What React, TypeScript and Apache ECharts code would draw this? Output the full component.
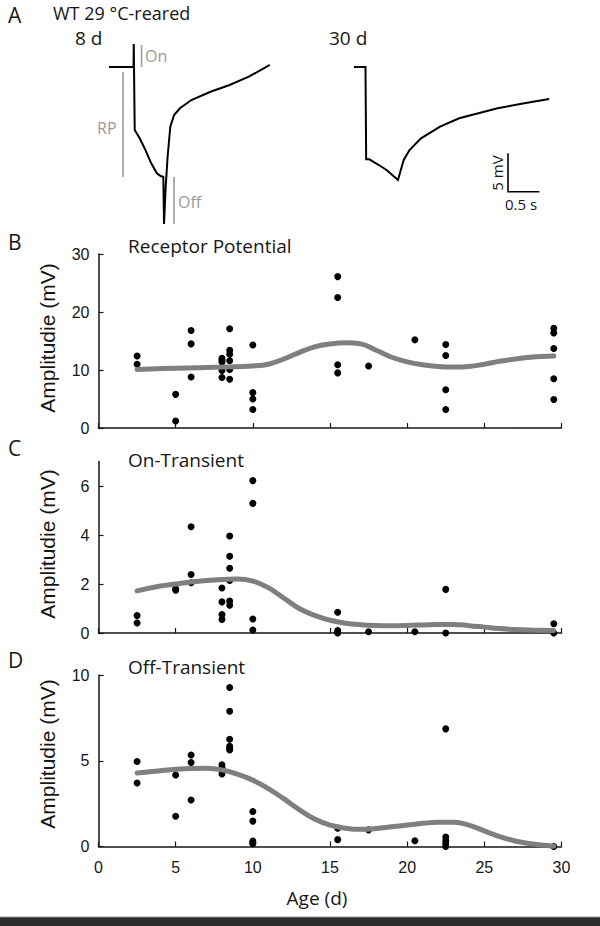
import React, { useEffect, useRef } from "react";
import * as echarts from "echarts";

// ---------- Panel A: example voltage traces (time in s, voltage in mV) ----------
const trace8dTime = [0.143, 0.532, 0.536, 0.540, 0.551, 0.630, 0.721, 0.813, 0.903, 0.963, 1.005, 1.016, 1.043, 1.073, 1.116, 1.176, 1.268, 1.451, 1.754, 2.057, 2.362, 2.695];
const trace8dVolt = [0, 0, 2.99, 2.99, -8.18, -9.26, -10.78, -12.51, -13.81, -14.16, -14.29, -20.39, -15.55, -11.65, -7.75, -6.23, -5.36, -4.29, -3.21, -2.34, -1.26, 0.26];
const trace30dTime = [4.032, 4.214, 4.225, 4.275, 4.335, 4.427, 4.548, 4.730, 4.760, 4.821, 4.913, 5.095, 5.398, 5.701, 6.006, 6.310, 6.735, 7.130];
const trace30dVolt = [0, 0, -11.99, -11.99, -12.30, -12.73, -13.38, -14.68, -13.81, -12.08, -10.78, -9.26, -7.75, -6.66, -6.01, -5.36, -4.71, -4.16];
const onBarTime = [0.66, 0.66];
const onBarVolt = [0, 2.86];
const rpBarTime = [0.365, 0.365];
const rpBarVolt = [-0.65, -14.29];
const offBarTime = [1.175, 1.175];
const offBarVolt = [-14.29, -20.39];
const scaleBarTime = [6.476, 6.476, 6.976];
const scaleBarVolt = [-11.2, -16.2, -16.2];

// ---------- Axes ----------
const ageTicks = [0, 5, 10, 15, 20, 25, 30];
const rpTicks = [0, 10, 20, 30];
const onTicks = [0, 2, 4, 6];
const offTicks = [0, 5, 10];

// ---------- Panel B: Receptor Potential ----------
const rpAges = [2.5, 2.5, 5, 5, 6, 6, 6, 8, 8, 8, 8, 8, 8.5, 8.5, 8.5, 8.5, 8.5, 8.5, 10, 10, 10, 10, 15.5, 15.5, 15.5, 15.5, 17.5, 20.5, 22.5, 22.5, 22.5, 22.5, 29.5, 29.5, 29.5, 29.5, 29.5];
const rpValues = [12.4, 11.0, 5.8, 1.2, 16.8, 14.5, 8.8, 12.0, 11.7, 11.4, 9.9, 8.7, 17.1, 13.4, 12.7, 11.6, 10.1, 8.4, 14.3, 6.1, 5.0, 3.2, 26.1, 22.5, 10.9, 9.5, 10.7, 15.2, 14.4, 12.5, 6.6, 3.2, 17.2, 16.4, 13.7, 8.5, 4.9];
const rpFitAges = [2.5, 5, 8, 10, 11, 12, 13, 14, 15, 16, 17, 18, 19, 20, 21, 22, 23, 24, 25, 26, 27, 28, 29.5];
const rpFitValues = [10.1, 10.3, 10.5, 10.7, 11.0, 11.9, 13.0, 14.0, 14.5, 14.7, 14.5, 13.4, 12.2, 11.4, 10.9, 10.6, 10.5, 10.6, 11.0, 11.5, 11.9, 12.2, 12.4];

// ---------- Panel C: On-Transient ----------
const onAges = [2.5, 2.5, 5, 5, 6, 6, 6, 8, 8, 8, 8, 8.5, 8.5, 8.5, 8.5, 8.5, 8.5, 10, 10, 10, 10, 15.5, 15.5, 15.5, 15.5, 17.5, 20.5, 22.5, 22.5, 29.5, 29.5];
const onValues = [0.71, 0.41, 1.8, 1.75, 4.34, 2.39, 2.05, 1.84, 1.27, 0.75, 0.55, 3.96, 3.13, 2.64, 2.14, 1.30, 1.13, 6.22, 5.29, 0.57, 0.12, 0.85, 0.1, 0.03, 0, 0.05, 0.05, 1.78, 0, 0.38, 0];
const onFitAges = [2.5, 4, 5, 6, 7.5, 9, 10, 11, 12, 13, 14, 15, 16, 17, 18, 19, 20, 21, 22, 23, 24, 25, 26, 27, 28, 29.5];
const onFitValues = [1.72, 1.92, 2.0, 2.08, 2.16, 2.2, 2.12, 1.85, 1.43, 1.0, 0.72, 0.52, 0.4, 0.34, 0.31, 0.3, 0.31, 0.33, 0.35, 0.35, 0.3, 0.24, 0.18, 0.14, 0.12, 0.1];

// ---------- Panel D: Off-Transient ----------
const offAges = [2.5, 2.5, 5, 5, 6, 6, 6, 8, 8, 8, 8.5, 8.5, 8.5, 8.5, 8.5, 8.5, 10, 10, 10, 10, 10, 15.5, 15.5, 17.5, 20.5, 22.5, 22.5, 22.5, 22.5, 22.5, 29.5];
const offValues = [4.96, 3.70, 4.17, 1.76, 5.34, 4.90, 2.71, 4.76, 4.60, 4.23, 9.27, 7.89, 6.25, 5.85, 5.71, 5.63, 2.04, 1.48, 0.32, 0.22, 0.16, 1.07, 0.40, 0.97, 0.34, 6.86, 0.55, 0.34, 0.16, 0, 0];
const offFitAges = [2.5, 4, 5, 6, 7, 8, 9, 10, 11, 12, 13, 14, 15, 16, 17, 18, 19, 20, 21, 22, 23, 24, 25, 26, 27, 28, 29.5];
const offFitValues = [4.29, 4.42, 4.5, 4.55, 4.56, 4.47, 4.22, 3.87, 3.38, 2.79, 2.15, 1.6, 1.25, 1.07, 1.0, 1.05, 1.15, 1.25, 1.35, 1.42, 1.42, 1.25, 0.91, 0.57, 0.32, 0.16, 0.02];

const zip = (a: number[], b: number[]) => a.map((v, i) => [v, b[i]]);

const INK = "#161616";
const GRAY_TEXT = "#9a9a9a";
const FIT = "#7f7f7f";
const SANS = "Open Sans";
const ARIAL = "Liberation Sans";

function xAxisFor(gridIndex: number, showLabels: boolean) {
  return {
    type: "value",
    gridIndex,
    min: 0,
    max: 30,
    interval: 5,
    axisLine: { show: true, onZero: false, lineStyle: { color: INK, width: 1.5 } },
    axisTick: { show: true, inside: true, length: 5, customValues: ageTicks, lineStyle: { color: INK, width: 1.2 } },
    axisLabel: { show: showLabels, customValues: ageTicks, margin: 13, fontSize: 16, fontFamily: ARIAL, color: INK },
    splitLine: { show: false },
  };
}

function yAxisFor(gridIndex: number, max: number, ticks: number[]) {
  return {
    type: "value",
    gridIndex,
    min: 0,
    max,
    axisLine: { show: true, onZero: false, lineStyle: { color: INK, width: 1.5 } },
    axisTick: { show: true, inside: true, length: 5, customValues: ticks, lineStyle: { color: INK, width: 1.2 } },
    axisLabel: { show: true, customValues: ticks, margin: 9, fontSize: 16, fontFamily: ARIAL, color: INK },
    splitLine: { show: false },
  };
}

function txt(text: string, x: number, y: number, size: number, extra: any = {}, font = SANS, fill = INK) {
  return {
    type: "text",
    x,
    y,
    silent: true,
    ...extra,
    style: {
      text,
      fontSize: size,
      fontFamily: font,
      fill,
      verticalAlign: "middle",
      align: extra.align || "left",
    },
  };
}

function traceLine(data: number[][], color: string, width: number) {
  return {
    type: "line",
    xAxisIndex: 0,
    yAxisIndex: 0,
    data,
    symbol: "none",
    silent: true,
    lineStyle: { color, width, cap: "butt", join: "miter" },
    z: 3,
  };
}

function scatterFor(idx: number, data: number[][]) {
  return {
    type: "scatter",
    xAxisIndex: idx,
    yAxisIndex: idx,
    data,
    symbol: "circle",
    symbolSize: 7,
    itemStyle: { color: "#000", opacity: 1 },
    silent: true,
    z: 2,
  };
}

function fitFor(idx: number, data: number[][]) {
  return {
    type: "line",
    xAxisIndex: idx,
    yAxisIndex: idx,
    data,
    smooth: 0.4,
    symbol: "none",
    silent: true,
    lineStyle: { color: FIT, width: 5, cap: "round" },
    z: 4,
  };
}

export default function App() {
  const ref = useRef<HTMLDivElement>(null);
  useEffect(() => {
    if (!ref.current) return;
    const chart = echarts.init(ref.current, null, { renderer: "svg" });
    const option: any = {
      animation: false,
      backgroundColor: "#ffffff",
      grid: [
        { left: 100, top: 36.2, width: 472.5, height: 200.2 },
        { left: 98.5, top: 254, width: 463, height: 174 },
        { left: 98.5, top: 461.5, width: 463, height: 171.5 },
        { left: 98.5, top: 675, width: 463, height: 171.5 },
      ],
      xAxis: [
        { type: "value", gridIndex: 0, min: 0, max: 7.5, show: false },
        xAxisFor(1, false),
        xAxisFor(2, false),
        xAxisFor(3, true),
      ],
      yAxis: [
        { type: "value", gridIndex: 0, min: -22, max: 4, show: false },
        yAxisFor(1, 30, rpTicks),
        yAxisFor(2, 7, onTicks),
        yAxisFor(3, 10, offTicks),
      ],
      series: [
        traceLine(zip(trace8dTime, trace8dVolt), "#000", 2),
        traceLine(zip(trace30dTime, trace30dVolt), "#000", 2),
        traceLine(zip(onBarTime, onBarVolt), GRAY_TEXT, 1.6),
        traceLine(zip(rpBarTime, rpBarVolt), GRAY_TEXT, 1.6),
        traceLine(zip(offBarTime, offBarVolt), GRAY_TEXT, 1.6),
        traceLine(zip(scaleBarTime, scaleBarVolt), "#000", 1.6),
        scatterFor(1, zip(rpAges, rpValues)),
        fitFor(1, zip(rpFitAges, rpFitValues)),
        scatterFor(2, zip(onAges, onValues)),
        fitFor(2, zip(onFitAges, onFitValues)),
        scatterFor(3, zip(offAges, offValues)),
        fitFor(3, zip(offFitAges, offFitValues)),
      ],
      graphic: [
        txt("A", 8, 15, 21),
        txt("WT 29 °C-reared", 53, 13, 18),
        txt("8 d", 75, 38, 19),
        txt("30 d", 329, 38, 19),
        txt("On", 145, 56, 16, {}, SANS, GRAY_TEXT),
        txt("RP", 97, 128, 16, {}, SANS, GRAY_TEXT),
        txt("Off", 178, 202, 16, {}, SANS, GRAY_TEXT),
        txt("5 mV", 497, 173, 15, { rotation: Math.PI / 2, align: "center" }),
        txt("0.5 s", 505, 204, 15),
        txt("B", 8, 242, 21),
        txt("Receptor Potential", 128, 245.5, 19),
        txt("C", 8, 448, 21),
        txt("On-Transient", 128, 460, 19),
        txt("D", 8, 660, 21),
        txt("Off-Transient", 128, 667, 19),
        txt("Amplitudie (mV)", 47.5, 338, 21, { rotation: Math.PI / 2, align: "center" }, ARIAL),
        txt("Amplitudie (mV)", 47.5, 544, 21, { rotation: Math.PI / 2, align: "center" }, ARIAL),
        txt("Amplitudie (mV)", 47.5, 754, 21, { rotation: Math.PI / 2, align: "center" }, ARIAL),
        txt("Age (d)", 317, 898, 19, { align: "center" }),
        { type: "rect", silent: true, shape: { x: 0, y: 917, width: 600, height: 9 }, style: { fill: "#2b2b2b" } },
        { type: "line", silent: true, shape: { x1: 0, y1: 917, x2: 600, y2: 917 }, style: { stroke: "#9a9a9a", lineWidth: 1 } },
      ],
    };
    chart.setOption(option);
    return () => chart.dispose();
  }, []);
  return (
    <div
      ref={ref}
      style={{ position: "absolute", left: 0, top: 0, width: 600, height: 926, background: "#fff" }}
    />
  );
}
